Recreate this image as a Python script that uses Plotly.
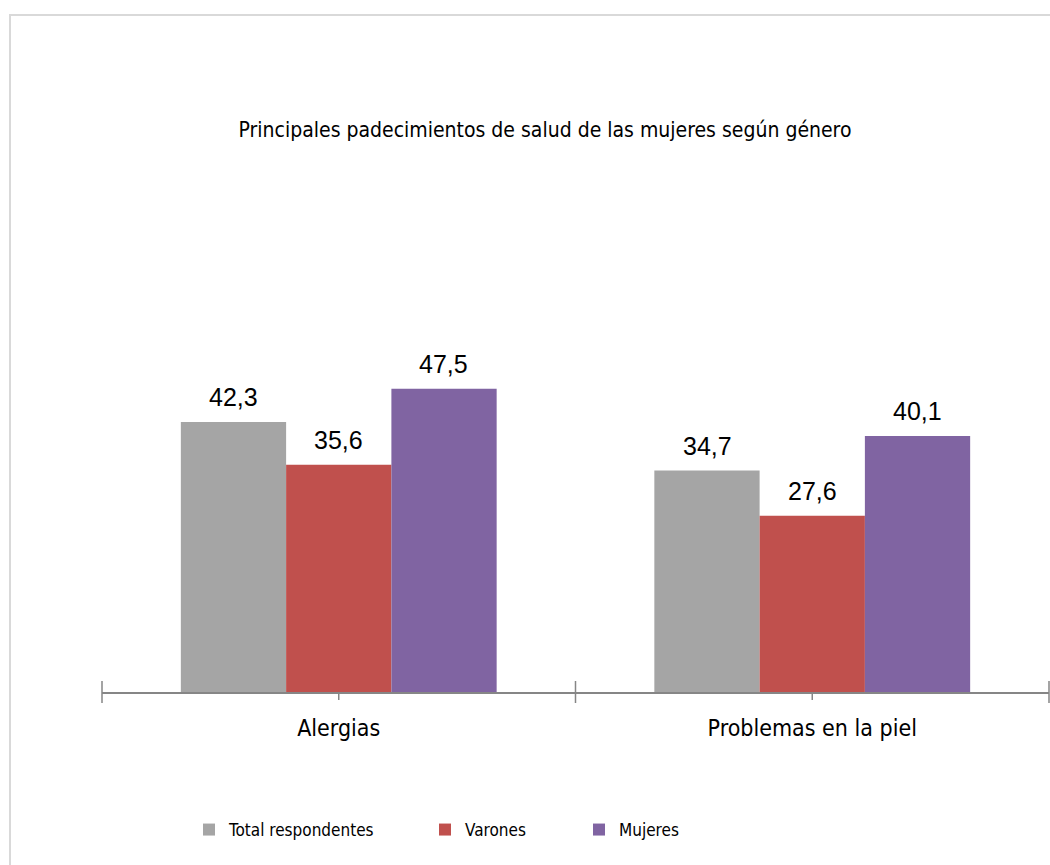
import plotly.graph_objects as go

categories = ["Alergias", "Problemas en la piel"]
series_names = ["Total respondentes", "Varones", "Mujeres"]
total_vals = [42.3, 34.7]
varones_vals = [35.6, 27.6]
mujeres_vals = [47.5, 40.1]
colors = ["#A5A5A5", "#C0504D", "#8064A2"]
title_text = "Principales padecimientos de salud de las mujeres según género"

NARROW = "Liberation Sans Narrow, DejaVu Sans Condensed, Arial Narrow, sans-serif"
LABEL_FONT = "Liberation Sans, Arial, sans-serif"

fig = go.Figure()
all_vals = [total_vals, varones_vals, mujeres_vals]
legend_ids = ["legend", "legend2", "legend3"]
for name, vals, col, lg in zip(series_names, all_vals, colors, legend_ids):
    fig.add_trace(go.Bar(
        x=categories, y=vals, name=name, marker_color=col, marker_line_width=0,
        legend=lg, hoverinfo="skip",
    ))

# value labels above bars
annotations = []
for i, vals in enumerate(all_vals):
    for cat, v in zip(categories, vals):
        annotations.append(dict(
            x=cat, y=v, xref="x", yref="y", text=f"{v:.1f}".replace(".", ","),
            showarrow=False, xshift=(i - 1) * 105.2, yanchor="bottom", yshift=9,
            font=dict(family=LABEL_FONT, size=25, color="#000000"),
        ))

# Excel-style tick marks (drawn in axis-domain coordinates so not clipped)
shapes = []
TICK = dict(color="#868686", width=1.5)
for b in [0.0, 0.5, 1.0]:
    shapes.append(dict(type="line", xref="x domain", yref="paper", ysizemode="pixel", yanchor=0,
                       x0=b, x1=b, y0=-11, y1=11, line=TICK))
for c in [0.25, 0.75]:
    shapes.append(dict(type="line", xref="x domain", yref="paper", ysizemode="pixel", yanchor=0,
                       x0=c, x1=c, y0=-8, y1=0, line=TICK))
# outer border
shapes.append(dict(type="rect", xref="paper", yref="paper",
                   x0=(10 - 102) / 947, x1=(1060 - 102) / 947,
                   y0=(692 - 875) / 383, y1=(692 - 15) / 383,
                   line=dict(color="#D9D9D9", width=2), fillcolor="rgba(0,0,0,0)", layer="below"))

legend_common = dict(orientation="h", xref="container", yref="container",
                     xanchor="left", y=1 - 830 / 865, yanchor="middle",
                     font=dict(family=NARROW, size=17, color="#000000"),
                     itemclick=False, bgcolor="rgba(0,0,0,0)")

fig.update_layout(
    width=1050, height=865,
    margin=dict(l=102, r=1, t=309, b=173),
    paper_bgcolor="white", plot_bgcolor="white",
    barmode="group", bargap=0.333, bargroupgap=0,
    title=dict(text=title_text, x=545 / 1050, xref="container", xanchor="center",
               y=1 - 130 / 865, yref="container", yanchor="middle",
               font=dict(family=NARROW, size=21, color="#000000")),
    xaxis=dict(type="category", range=[-0.5, 1.5], showline=True, linecolor="#868686",
               linewidth=1.5, ticks="outside", ticklen=15, tickcolor="rgba(0,0,0,0)",
               tickfont=dict(family=NARROW, size=23, color="#000000"), showgrid=False,
               fixedrange=True),
    yaxis=dict(range=[0, 60], visible=False, showgrid=False, zeroline=False, fixedrange=True),
    legend=dict(legend_common, x=189 / 1050),
    legend2=dict(legend_common, x=425 / 1050),
    legend3=dict(legend_common, x=579 / 1050),
    annotations=annotations,
    shapes=shapes,
    showlegend=True,
)

fig.write_html("out.html", config={"displayModeBar": False},
               post_script="document.body.style.margin='0';")
